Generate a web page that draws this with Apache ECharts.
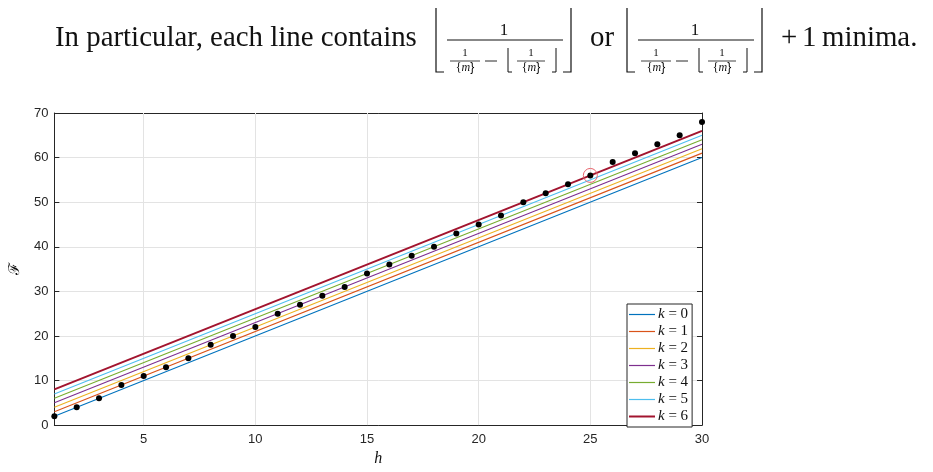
<!DOCTYPE html>
<html>
<head>
<meta charset="utf-8">
<script src="https://cdn.jsdelivr.net/npm/echarts@6.0.0/dist/echarts.min.js"></script>
<style>
  html, body { margin: 0; padding: 0; background: #fff; }
  #chart { width: 933px; height: 472px; }
</style>
</head>
<body>
<div id="chart"></div>
<script>
var chart = echarts.init(document.getElementById('chart'));

// data
var hValues = [1, 2, 3, 4, 5, 6, 7, 8, 9, 10, 11, 12, 13, 14, 15,
  16, 17, 18, 19, 20, 21, 22, 23, 24, 25, 26, 27, 28, 29, 30];
var minimaValues = [2, 4, 6, 9, 11, 13, 15, 18, 20, 22, 25, 27, 29, 31, 34,
  36, 38, 40, 43, 45, 47, 50, 52, 54, 56, 59, 61, 63, 65, 68];
var kLabels = ['k = 0', 'k = 1', 'k = 2', 'k = 3', 'k = 4', 'k = 5', 'k = 6'];
var lineAtStart = [2, 3, 4, 5, 6, 7, 8];        // value of each line at h = 1
var lineAtEnd = [60, 61, 62, 63, 64, 65, 66];   // value of each line at h = 30
var highlight = [25, 56];
var xTicks = [5, 10, 15, 20, 25, 30];
var xGrid = [5, 10, 15, 20, 25];

var colors = ['#0072BD', '#D95319', '#EDB120', '#7E2F8E', '#77AC30', '#4DBEEE', '#A2142F'];
var axisColor = '#262626';
var gridColor = '#e3e3e3';
var serif = '"Liberation Serif", "DejaVu Serif", serif';
var sans = '"Liberation Sans", Arial, sans-serif';

// font size so the sentence keeps its width
var ctx = document.createElement('canvas').getContext('2d');
ctx.font = '100px ' + serif;
var bodySize = 100 * 362 / ctx.measureText('In particular, each line contains').width;

var graphics = [];
function txt(x, y, s, size, align, italic) {
  graphics.push({
    type: 'text', x: x, y: y, silent: true,
    style: {
      text: s, fill: '#111', font: (italic ? 'italic ' : '') + size + 'px ' + serif,
      align: align || 'left', verticalAlign: 'middle'
    }
  });
}
function poly(pts, w) {
  graphics.push({
    type: 'polyline', silent: true,
    shape: { points: pts },
    style: { stroke: '#111', lineWidth: w || 1.2, fill: null }
  });
}
function smallFrac(cx, half) {
  txt(cx, 53, '1', 11, 'center');
  poly([[cx - half, 61], [cx + half, 61]], 0.8);
  graphics.push({
    type: 'text', x: cx, y: 68, silent: true,
    style: {
      text: '{a|{}{b|m}{a|}}', align: 'center', verticalAlign: 'middle',
      rich: {
        a: { fontSize: 12, fontFamily: serif, fill: '#111' },
        b: { fontSize: 12, fontFamily: serif, fontStyle: 'italic', fill: '#111' }
      }
    }
  });
}
function floorFrac(x0) {
  poly([[x0, 8], [x0, 72], [x0 + 8, 72]]);
  poly([[x0 + 127, 72], [x0 + 135, 72], [x0 + 135, 8]]);
  poly([[x0 + 11, 40], [x0 + 127, 40]], 1);
  txt(x0 + 68, 31, '1', 17, 'center');
  smallFrac(x0 + 29, 15);
  poly([[x0 + 49, 61], [x0 + 61, 61]], 0.9);
  poly([[x0 + 72, 48], [x0 + 72, 72], [x0 + 76, 72]], 1);
  smallFrac(x0 + 95, 14);
  poly([[x0 + 116, 72], [x0 + 120, 72], [x0 + 120, 48]], 1);
}

txt(55, 38, 'In particular, each line contains', bodySize);
floorFrac(436);
txt(590, 38, 'or', bodySize);
floorFrac(627);
txt(781, 38, '+', bodySize);
txt(802, 38, '1', bodySize);
txt(822, 38, 'minima.', bodySize);

var series = [{
  name: 'grid',
  type: 'line',
  data: [],
  silent: true,
  z: 1,
  markLine: {
    silent: true,
    z: 1,
    symbol: 'none',
    label: { show: false },
    lineStyle: { color: gridColor, type: 'solid', width: 1 },
    data: xGrid.map(function (v) { return { xAxis: v }; })
  }
}];

var legendData = [];
for (var k = 0; k < kLabels.length; k++) {
  var w = k === 6 ? 2 : 1.2;
  series.push({
    name: kLabels[k],
    type: 'line',
    symbol: 'none',
    z: 2,
    lineStyle: { color: colors[k], width: k === 6 ? 2 : 1.1 },
    itemStyle: { color: colors[k] },
    data: [[hValues[0], lineAtStart[k]], [hValues[hValues.length - 1], lineAtEnd[k]]]
  });
  legendData.push({
    name: kLabels[k],
    icon: 'path://M0,0L26,0L26,' + w + 'L0,' + w + 'Z',
    itemStyle: { color: colors[k] }
  });
}

series.push({
  name: 'minima',
  type: 'scatter',
  symbolSize: 6,
  z: 4,
  itemStyle: { color: '#000', opacity: 1 },
  data: hValues.map(function (h, i) { return [h, minimaValues[i]]; })
});

series.push({
  name: 'selected',
  type: 'scatter',
  symbol: 'circle',
  symbolSize: 14,
  z: 5,
  itemStyle: { color: 'transparent', borderColor: '#e8646c', borderWidth: 1, opacity: 1 },
  data: [highlight]
});

var option = {
  animation: false,
  backgroundColor: '#fff',
  graphic: graphics,
  grid: { left: 52, right: 231, top: 113, bottom: 36 },
  legend: {
    data: legendData,
    orient: 'vertical',
    left: 627,
    top: 304,
    padding: [3, 4, 3, 2],
    itemGap: 2,
    itemWidth: 26,
    itemHeight: 14,
    backgroundColor: '#fff',
    borderColor: axisColor,
    borderWidth: 1,
    borderRadius: 0,
    formatter: function (name) { return '{i|k}' + name.slice(1); },
    textStyle: {
      fontFamily: serif, fontSize: 15, color: '#111', padding: [0, 0, 0, -2],
      rich: { i: { fontFamily: serif, fontSize: 15, fontStyle: 'italic', color: '#111' } }
    }
  },
  xAxis: [{
    type: 'value',
    min: 1,
    max: 30,
    name: 'h',
    nameLocation: 'middle',
    nameGap: 23,
    nameTextStyle: { fontFamily: serif, fontStyle: 'italic', fontSize: 16, color: '#111' },
    axisLine: { show: true, onZero: false, lineStyle: { color: axisColor, width: 1 } },
    axisTick: { show: true, inside: true, length: 5, customValues: xTicks, lineStyle: { color: axisColor } },
    axisLabel: { customValues: xTicks, color: axisColor, fontFamily: sans, fontSize: 13, margin: 8 },
    splitLine: { show: false }
  }, {
    type: 'value',
    position: 'top',
    min: 1,
    max: 30,
    axisLine: { show: true, onZero: false, lineStyle: { color: axisColor, width: 1 } },
    axisTick: { show: true, inside: true, length: 5, customValues: xTicks, lineStyle: { color: axisColor } },
    axisLabel: { show: false },
    splitLine: { show: false }
  }],
  yAxis: [{
    type: 'value',
    min: 0,
    max: 70,
    interval: 10,
    name: '\u2131',
    nameLocation: 'middle',
    nameGap: 27,
    nameTextStyle: { fontFamily: '"DejaVu Serif", serif', fontSize: 15, color: '#111' },
    axisLine: { show: true, onZero: false, lineStyle: { color: axisColor, width: 1 } },
    axisTick: { show: true, inside: true, length: 5, lineStyle: { color: axisColor } },
    axisLabel: { color: axisColor, fontFamily: sans, fontSize: 13, margin: 6 },
    splitLine: { show: true, lineStyle: { color: gridColor, width: 1 } }
  }, {
    type: 'value',
    position: 'right',
    min: 0,
    max: 70,
    interval: 10,
    axisLine: { show: true, onZero: false, lineStyle: { color: axisColor, width: 1 } },
    axisTick: { show: true, inside: true, length: 5, lineStyle: { color: axisColor } },
    axisLabel: { show: false },
    splitLine: { show: false }
  }],
  series: series
};

chart.setOption(option);
</script>
</body>
</html>
